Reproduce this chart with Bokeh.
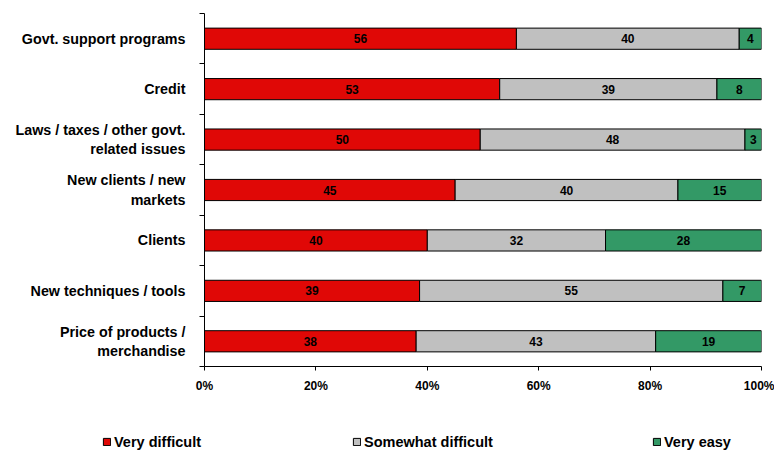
from bokeh.plotting import figure
from bokeh.models import (Range1d, FixedTicker, NumeralTickFormatter, Legend,
                          LegendItem, ColumnDataSource)
from bokeh.core.properties import value
from bokeh.embed import file_html
from bokeh.resources import INLINE

# Survey answers: share of respondents per difficulty level (top to bottom)
categories = [
    "Govt. support programs",
    "Credit",
    "Laws / taxes / other govt.\nrelated issues",
    "New clients / new\nmarkets",
    "Clients",
    "New techniques / tools",
    "Price of products /\nmerchandise",
]
very_difficult = [56, 53, 50, 45, 40, 39, 38]
somewhat_difficult = [40, 39, 48, 40, 32, 55, 43]
very_easy = [4, 8, 3, 15, 28, 7, 19]
series_names = ["Very difficult", "Somewhat difficult", "Very easy"]
x_ticks = [0, 0.2, 0.4, 0.6, 0.8, 1.0]

colors = ["#E00806", "#C0C0C0", "#339966"]
FONT = "Liberation Sans"

n = len(categories)
ys = [n - 1 - i for i in range(n)]

# 100% stacked: each row is scaled by its own total
series = [very_difficult, somewhat_difficult, very_easy]
totals = [sum(s[i] for s in series) for i in range(n)]

p = figure(width=774, height=400, output_backend="svg", toolbar_location=None,
           x_range=Range1d(0, 1), y_range=Range1d(-0.5, n - 0.5),
           min_border_left=204, min_border_right=13, min_border_top=13,
           min_border_bottom=34)
p.outline_line_color = None
p.xgrid.visible = False
p.ygrid.visible = False
p.background_fill_color = "white"
p.border_fill_color = "white"

left = [0.0] * n
for vals, color in zip(series, colors):
    frac = [v / t for v, t in zip(vals, totals)]
    right = [l + f for l, f in zip(left, frac)]
    src = ColumnDataSource(dict(
        y=ys, left=left, right=right,
        mid=[(l + r) / 2 for l, r in zip(left, right)],
        txt=[str(v) for v in vals],
    ))
    p.hbar(y="y", left="left", right="right", height=0.42, source=src,
           fill_color=color, line_color="black", line_width=1)
    p.text(x="mid", y="y", text="txt", source=src, text_align="center",
           text_baseline="middle", text_font=value(FONT),
           text_font_style="bold", text_font_size="12px", text_color="black")
    left = right

# y axis: labels at bar centres, tick marks on category boundaries
yax = p.yaxis[0]
yax.ticker = FixedTicker(ticks=ys, minor_ticks=[k - 0.5 for k in range(n + 1)])
yax.major_label_overrides = {y: c for y, c in zip(ys, categories)}
yax.major_tick_out = 0
yax.major_tick_in = 0
yax.minor_tick_out = 5
yax.minor_tick_in = 0
yax.minor_tick_line_color = "black"
yax.axis_line_color = "black"
yax.major_label_standoff = 14
yax.major_label_text_font = FONT
yax.major_label_text_font_style = "bold"
yax.major_label_text_font_size = "14.3px"
yax.major_label_text_color = "black"
yax.major_label_text_align = "right"

xax = p.xaxis[0]
xax.ticker = FixedTicker(ticks=x_ticks)
xax.formatter = NumeralTickFormatter(format="0%")
xax.major_tick_out = 4
xax.major_tick_in = 0
xax.minor_tick_out = 0
xax.minor_tick_in = 0
xax.major_tick_line_color = "black"
xax.axis_line_color = "black"
xax.major_label_standoff = 8
xax.major_label_text_font = FONT
xax.major_label_text_font_style = "bold"
xax.major_label_text_font_size = "12px"
xax.major_label_text_color = "black"

# legend strip under the chart: a bare plot holding three one-item legends
lf = figure(width=774, height=50, output_backend="svg", toolbar_location=None,
            x_range=Range1d(0, 1), y_range=Range1d(0, 1),
            x_axis_type=None, y_axis_type=None,
            min_border_left=0, min_border_right=0, min_border_top=0,
            min_border_bottom=0)
lf.outline_line_color = None
lf.xgrid.visible = False
lf.ygrid.visible = False

legend_x = [102, 352, 652]
for name, color, lx in zip(series_names, colors, legend_x):
    # swatch source sits outside the visible range; only the legend shows it
    r = lf.rect(x=[-10], y=[-10], width=1, height=1, fill_color=color,
                line_color="black", line_width=1)
    lg = Legend(items=[LegendItem(label=name, renderers=[r])],
                location=(lx, 0), orientation="horizontal",
                padding=0, margin=0, spacing=0,
                glyph_width=9, glyph_height=9, label_standoff=3,
                label_height=17, label_width=10,
                label_text_font=FONT, label_text_font_style="bold",
                label_text_font_size="14.5px", label_text_color="black",
                border_line_color=None, background_fill_alpha=0)
    lf.add_layout(lg, "center")

open("out.html", "w").write(file_html([p, lf], INLINE))
